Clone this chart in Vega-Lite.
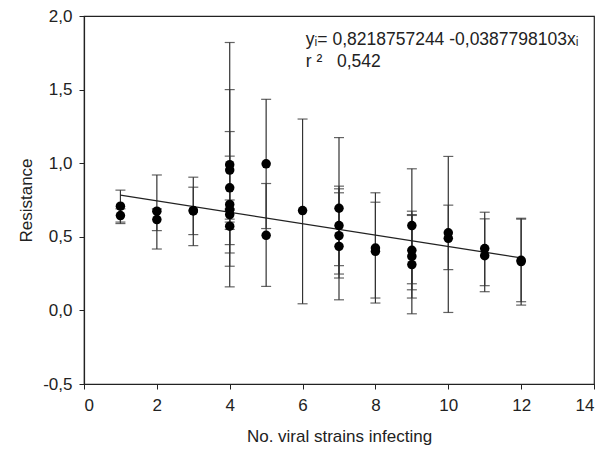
{
  "$schema": "https://vega.github.io/schema/vega-lite/v6.json",
  "width": 510,
  "height": 368,
  "autosize": {"type": "none"},
  "padding": {"left": 84, "top": 16, "right": 12, "bottom": 69},
  "background": "white",
  "config": {
    "font": "Liberation Sans",
    "view": {"stroke": "#222", "strokeWidth": 1.2},
    "axis": {
      "grid": false,
      "domainColor": "#222",
      "tickColor": "#222",
      "labelColor": "#222",
      "titleColor": "#222",
      "labelFont": "Liberation Sans",
      "titleFont": "Liberation Sans",
      "labelFontSize": 17,
      "titleFontSize": 17,
      "titleFontWeight": "normal",
      "tickSize": 5,
      "domainWidth": 1.2
    }
  },
  "datasets": {
    "pts": [
      {"x": 1, "y": 0.708, "lo": 0.60, "hi": 0.817},
      {"x": 1, "y": 0.644, "lo": 0.59, "hi": 0.69},
      {"x": 2, "y": 0.674, "lo": 0.417, "hi": 0.92},
      {"x": 2, "y": 0.617, "lo": 0.542, "hi": 0.69},
      {"x": 3, "y": 0.678, "lo": 0.44, "hi": 0.905},
      {"x": 3, "y": 0.676, "lo": 0.515, "hi": 0.837},
      {"x": 4, "y": 0.99, "lo": 0.16, "hi": 1.82},
      {"x": 4, "y": 0.953, "lo": 0.39, "hi": 1.50},
      {"x": 4, "y": 0.833, "lo": 0.447, "hi": 1.215},
      {"x": 4, "y": 0.72, "lo": 0.69, "hi": 0.75},
      {"x": 4, "y": 0.685, "lo": 0.30, "hi": 1.048},
      {"x": 4, "y": 0.651, "lo": 0.62, "hi": 0.68},
      {"x": 4, "y": 0.572, "lo": 0.55, "hi": 0.60},
      {"x": 5, "y": 0.996, "lo": 0.556, "hi": 1.434},
      {"x": 5, "y": 0.51, "lo": 0.163, "hi": 0.862},
      {"x": 6, "y": 0.678, "lo": 0.045, "hi": 1.30},
      {"x": 7, "y": 0.694, "lo": 0.22, "hi": 1.174},
      {"x": 7, "y": 0.576, "lo": 0.304, "hi": 0.844},
      {"x": 7, "y": 0.508, "lo": 0.247, "hi": 0.826},
      {"x": 7, "y": 0.435, "lo": 0.072, "hi": 0.799},
      {"x": 8, "y": 0.424, "lo": 0.05, "hi": 0.799},
      {"x": 8, "y": 0.401, "lo": 0.084, "hi": 0.735},
      {"x": 9, "y": 0.576, "lo": 0.181, "hi": 0.962},
      {"x": 9, "y": 0.408, "lo": 0.14, "hi": 0.674},
      {"x": 9, "y": 0.367, "lo": 0.084, "hi": 0.651},
      {"x": 9, "y": 0.311, "lo": -0.023, "hi": 0.645},
      {"x": 10, "y": 0.527, "lo": -0.014, "hi": 1.046},
      {"x": 10, "y": 0.49, "lo": 0.277, "hi": 0.715},
      {"x": 11, "y": 0.42, "lo": 0.168, "hi": 0.667},
      {"x": 11, "y": 0.372, "lo": 0.127, "hi": 0.622},
      {"x": 12, "y": 0.34, "lo": 0.059, "hi": 0.626},
      {"x": 12, "y": 0.332, "lo": 0.036, "hi": 0.62}
    ],
    "fit": [
      {"x": 1, "fit": 0.783},
      {"x": 12, "fit": 0.3565}
    ],
    "notes": [
      {"x": 6.09, "y": 1.84, "label": "yᵢ= 0,8218757244 -0,0387798103xᵢ"},
      {"x": 6.09, "y": 1.685, "label": "r ²\u00a0\u00a0 0,542"}
    ]
  },
  "layer": [
    {
      "data": {"name": "pts"},
      "mark": {"type": "errorbar", "ticks": {"size": 10, "color": "#222"}, "color": "#333", "thickness": 1.2},
      "encoding": {
        "x": {"field": "x", "type": "quantitative",
          "scale": {"domain": [0, 14], "nice": false},
          "axis": {"values": [0, 2, 4, 6, 8, 10, 12, 14], "title": "No. viral strains infecting", "labelPadding": 8, "titlePadding": 15}},
        "y": {"field": "lo", "type": "quantitative",
          "scale": {"domain": [-0.5, 2.0], "nice": false, "zero": false},
          "axis": {"values": [-0.5, 0, 0.5, 1.0, 1.5, 2.0], "title": "Resistance", "labelPadding": 7, "titlePadding": 7,
            "labelExpr": "replace(replace(format(datum.value, '.1f'), '.', ','), '\u2212', '-')"}},
        "y2": {"field": "hi"}
      }
    },
    {
      "data": {"name": "fit"},
      "mark": {"type": "line", "color": "#222", "strokeWidth": 1.2},
      "encoding": {
        "x": {"field": "x", "type": "quantitative"},
        "y": {"field": "fit", "type": "quantitative"}
      }
    },
    {
      "data": {"name": "pts"},
      "mark": {"type": "point", "filled": true, "color": "black", "opacity": 1, "size": 90},
      "encoding": {
        "x": {"field": "x", "type": "quantitative"},
        "y": {"field": "y", "type": "quantitative"}
      }
    },
    {
      "data": {"name": "notes"},
      "mark": {"type": "text", "align": "left", "baseline": "middle", "fontSize": 17.5, "color": "#222", "font": "Liberation Sans"},
      "encoding": {
        "x": {"field": "x", "type": "quantitative"},
        "y": {"field": "y", "type": "quantitative"},
        "text": {"field": "label"}
      }
    }
  ]
}
